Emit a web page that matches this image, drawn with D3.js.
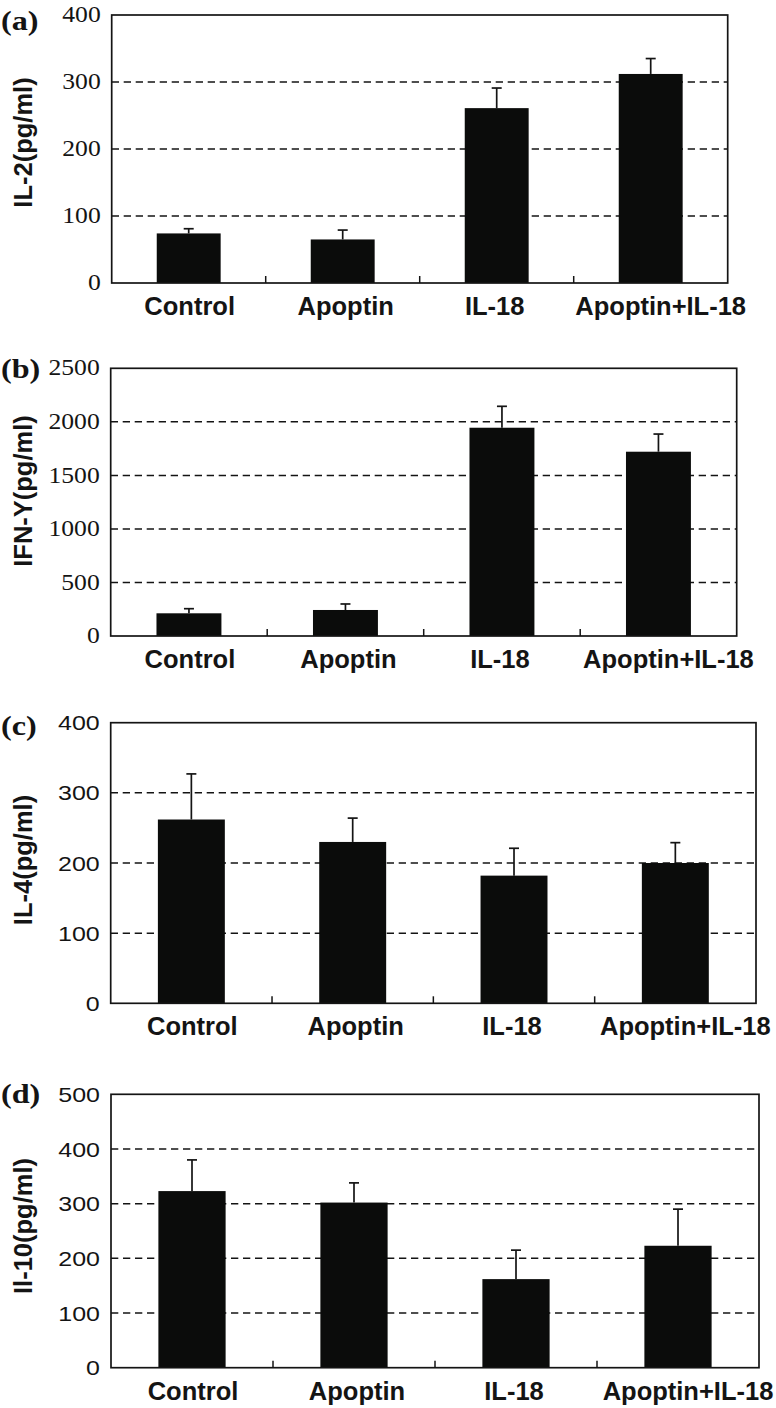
<!DOCTYPE html>
<html>
<head>
<meta charset="utf-8">
<script src="https://cdn.jsdelivr.net/npm/d3@7"></script>
<style>
  html, body { margin: 0; padding: 0; background: #fff; }
  svg { display: block; }
</style>
</head>
<body>
<svg id="chart" width="776" height="1408"></svg>
<script>
// ---------- DATA ----------
const categories = ["Control", "Apoptin", "IL-18", "Apoptin+IL-18"];

const il2Values   = [74, 65, 261, 312];
const il2Errors   = [7, 14, 30, 23];
const il2Ticks    = [0, 100, 200, 300, 400];

const ifnValues   = [212, 243, 1945, 1721];
const ifnErrors   = [43, 56, 200, 165];
const ifnTicks    = [0, 500, 1000, 1500, 2000, 2500];

const il4Values   = [262, 230, 182, 200];
const il4Errors   = [65, 34, 39, 29];
const il4Ticks    = [0, 100, 200, 300, 400];

const il10Values  = [323, 302, 162, 223];
const il10Errors  = [57, 36, 53, 67];
const il10Ticks   = [0, 100, 200, 300, 400, 500];

const panelLetters = ["(a)", "(b)", "(c)", "(d)"];
const yTitles = ["IL-2(pg/ml)", "IFN-Y(pg/ml)", "IL-4(pg/ml)", "Il-10(pg/ml)"];

// ---------- LAYOUT ----------
const panels = [
  { values: il2Values,  errors: il2Errors,  ticks: il2Ticks,  letter: panelLetters[0], title: yTitles[0],
    left: 111.7, right: 727.7, top: 15,    bottom: 283,    tickFont: "serif", titleY: 142.5, letterY: 30 },
  { values: ifnValues,  errors: ifnErrors,  ticks: ifnTicks,  letter: panelLetters[1], title: yTitles[1],
    left: 110.7, right: 736.7, top: 368.3, bottom: 636,    tickFont: "serif", titleY: 491,   letterY: 378 },
  { values: il4Values,  errors: il4Errors,  ticks: il4Ticks,  letter: panelLetters[2], title: yTitles[2],
    left: 110.7, right: 756,   top: 722.7, bottom: 1003.3, tickFont: "sans",  titleY: 860,   letterY: 735 },
  { values: il10Values, errors: il10Errors, ticks: il10Ticks, letter: panelLetters[3], title: yTitles[3],
    left: 111,   right: 759,   top: 1094.3, bottom: 1367.7, tickFont: "sans", titleY: 1226,  letterY: 1103 }
];
const labelShift = [1, 3, -2, 10];

const svg = d3.select("#chart");
const BAR = "#0b0c0b";
const INK = "#141414";

panels.forEach(p => {
  const data = categories.map((c, i) => ({ cat: c, v: p.values[i], e: p.errors[i] }));

  const x = d3.scaleBand().domain(categories)
    .range([p.left, p.right]).paddingInner(0.585).paddingOuter(0.2925);
  const y = d3.scaleLinear().domain([p.ticks[0], p.ticks[p.ticks.length - 1]])
    .range([p.bottom, p.top]);

  const g = svg.append("g");

  // dashed gridlines
  g.selectAll("line.grid").data(p.ticks.slice(1, -1)).enter().append("line")
    .attr("x1", p.left).attr("x2", p.right)
    .attr("y1", d => y(d)).attr("y2", d => y(d))
    .attr("stroke", INK).attr("stroke-width", 1.5).attr("stroke-dasharray", "7.3,4.7");

  // bars
  g.selectAll("rect.bar").data(data).enter().append("rect")
    .attr("x", d => x(d.cat)).attr("width", x.bandwidth())
    .attr("y", d => y(d.v)).attr("height", d => y(0) - y(d.v))
    .attr("fill", BAR);

  // error bars (upper only)
  const eb = g.selectAll("g.err").data(data).enter().append("g");
  eb.append("line")
    .attr("x1", d => x(d.cat) + x.bandwidth() / 2).attr("x2", d => x(d.cat) + x.bandwidth() / 2)
    .attr("y1", d => y(d.v)).attr("y2", d => y(d.v + d.e))
    .attr("stroke", INK).attr("stroke-width", 1.7);
  eb.append("line")
    .attr("x1", d => x(d.cat) + x.bandwidth() / 2 - 5).attr("x2", d => x(d.cat) + x.bandwidth() / 2 + 5)
    .attr("y1", d => y(d.v + d.e)).attr("y2", d => y(d.v + d.e))
    .attr("stroke", INK).attr("stroke-width", 1.7);

  // frame
  g.append("rect")
    .attr("x", p.left).attr("y", p.top)
    .attr("width", p.right - p.left).attr("height", p.bottom - p.top)
    .attr("fill", "none").attr("stroke", INK).attr("stroke-width", 1.7);

  // category separator ticks (inside, pointing up)
  const step = x.step();
  g.selectAll("line.ct").data(categories.slice(1)).enter().append("line")
    .attr("x1", d => x(d) - x.paddingInner() * step / 2)
    .attr("x2", d => x(d) - x.paddingInner() * step / 2)
    .attr("y1", p.bottom).attr("y2", p.bottom - 7)
    .attr("stroke", INK).attr("stroke-width", 1.5);

  // y tick labels
  const serif = p.tickFont === "serif";
  g.selectAll("g.yt").data(p.ticks).enter().append("g")
    .attr("transform", d => `translate(${p.left - 11},${y(d) + 2}) scale(${serif ? 1.14 : 1.19},1)`)
    .append("text")
    .attr("text-anchor", "end").attr("dominant-baseline", "middle")
    .attr("font-family", serif ? "'Liberation Serif','Times New Roman',serif" : "'Liberation Sans',Arial,sans-serif")
    .attr("font-size", serif ? 22.5 : 21)
    .attr("fill", INK)
    .text(d => d);

  // x category labels
  g.selectAll("text.xl").data(categories).enter().append("text")
    .attr("x", (d, i) => x(d) + x.bandwidth() / 2 + labelShift[i])
    .attr("y", p.bottom + 32)
    .attr("text-anchor", "middle")
    .attr("font-family", "'Liberation Sans',Arial,sans-serif")
    .attr("font-weight", "bold").attr("font-size", 25.5)
    .attr("fill", INK)
    .text(d => d);

  // y axis title
  g.append("text")
    .attr("transform", `translate(32,${p.titleY}) rotate(-90)`)
    .attr("text-anchor", "middle")
    .attr("font-family", "'Liberation Sans',Arial,sans-serif")
    .attr("font-weight", "bold").attr("font-size", 25.5)
    .attr("fill", INK)
    .text(p.title);

  // panel letter
  g.append("g").attr("transform", `translate(1,${p.letterY}) scale(1.15,1)`)
    .append("text")
    .attr("font-family", "'Liberation Serif','Times New Roman',serif")
    .attr("font-weight", "bold").attr("font-size", 28)
    .attr("fill", INK)
    .text(p.letter);
});
</script>
</body>
</html>
